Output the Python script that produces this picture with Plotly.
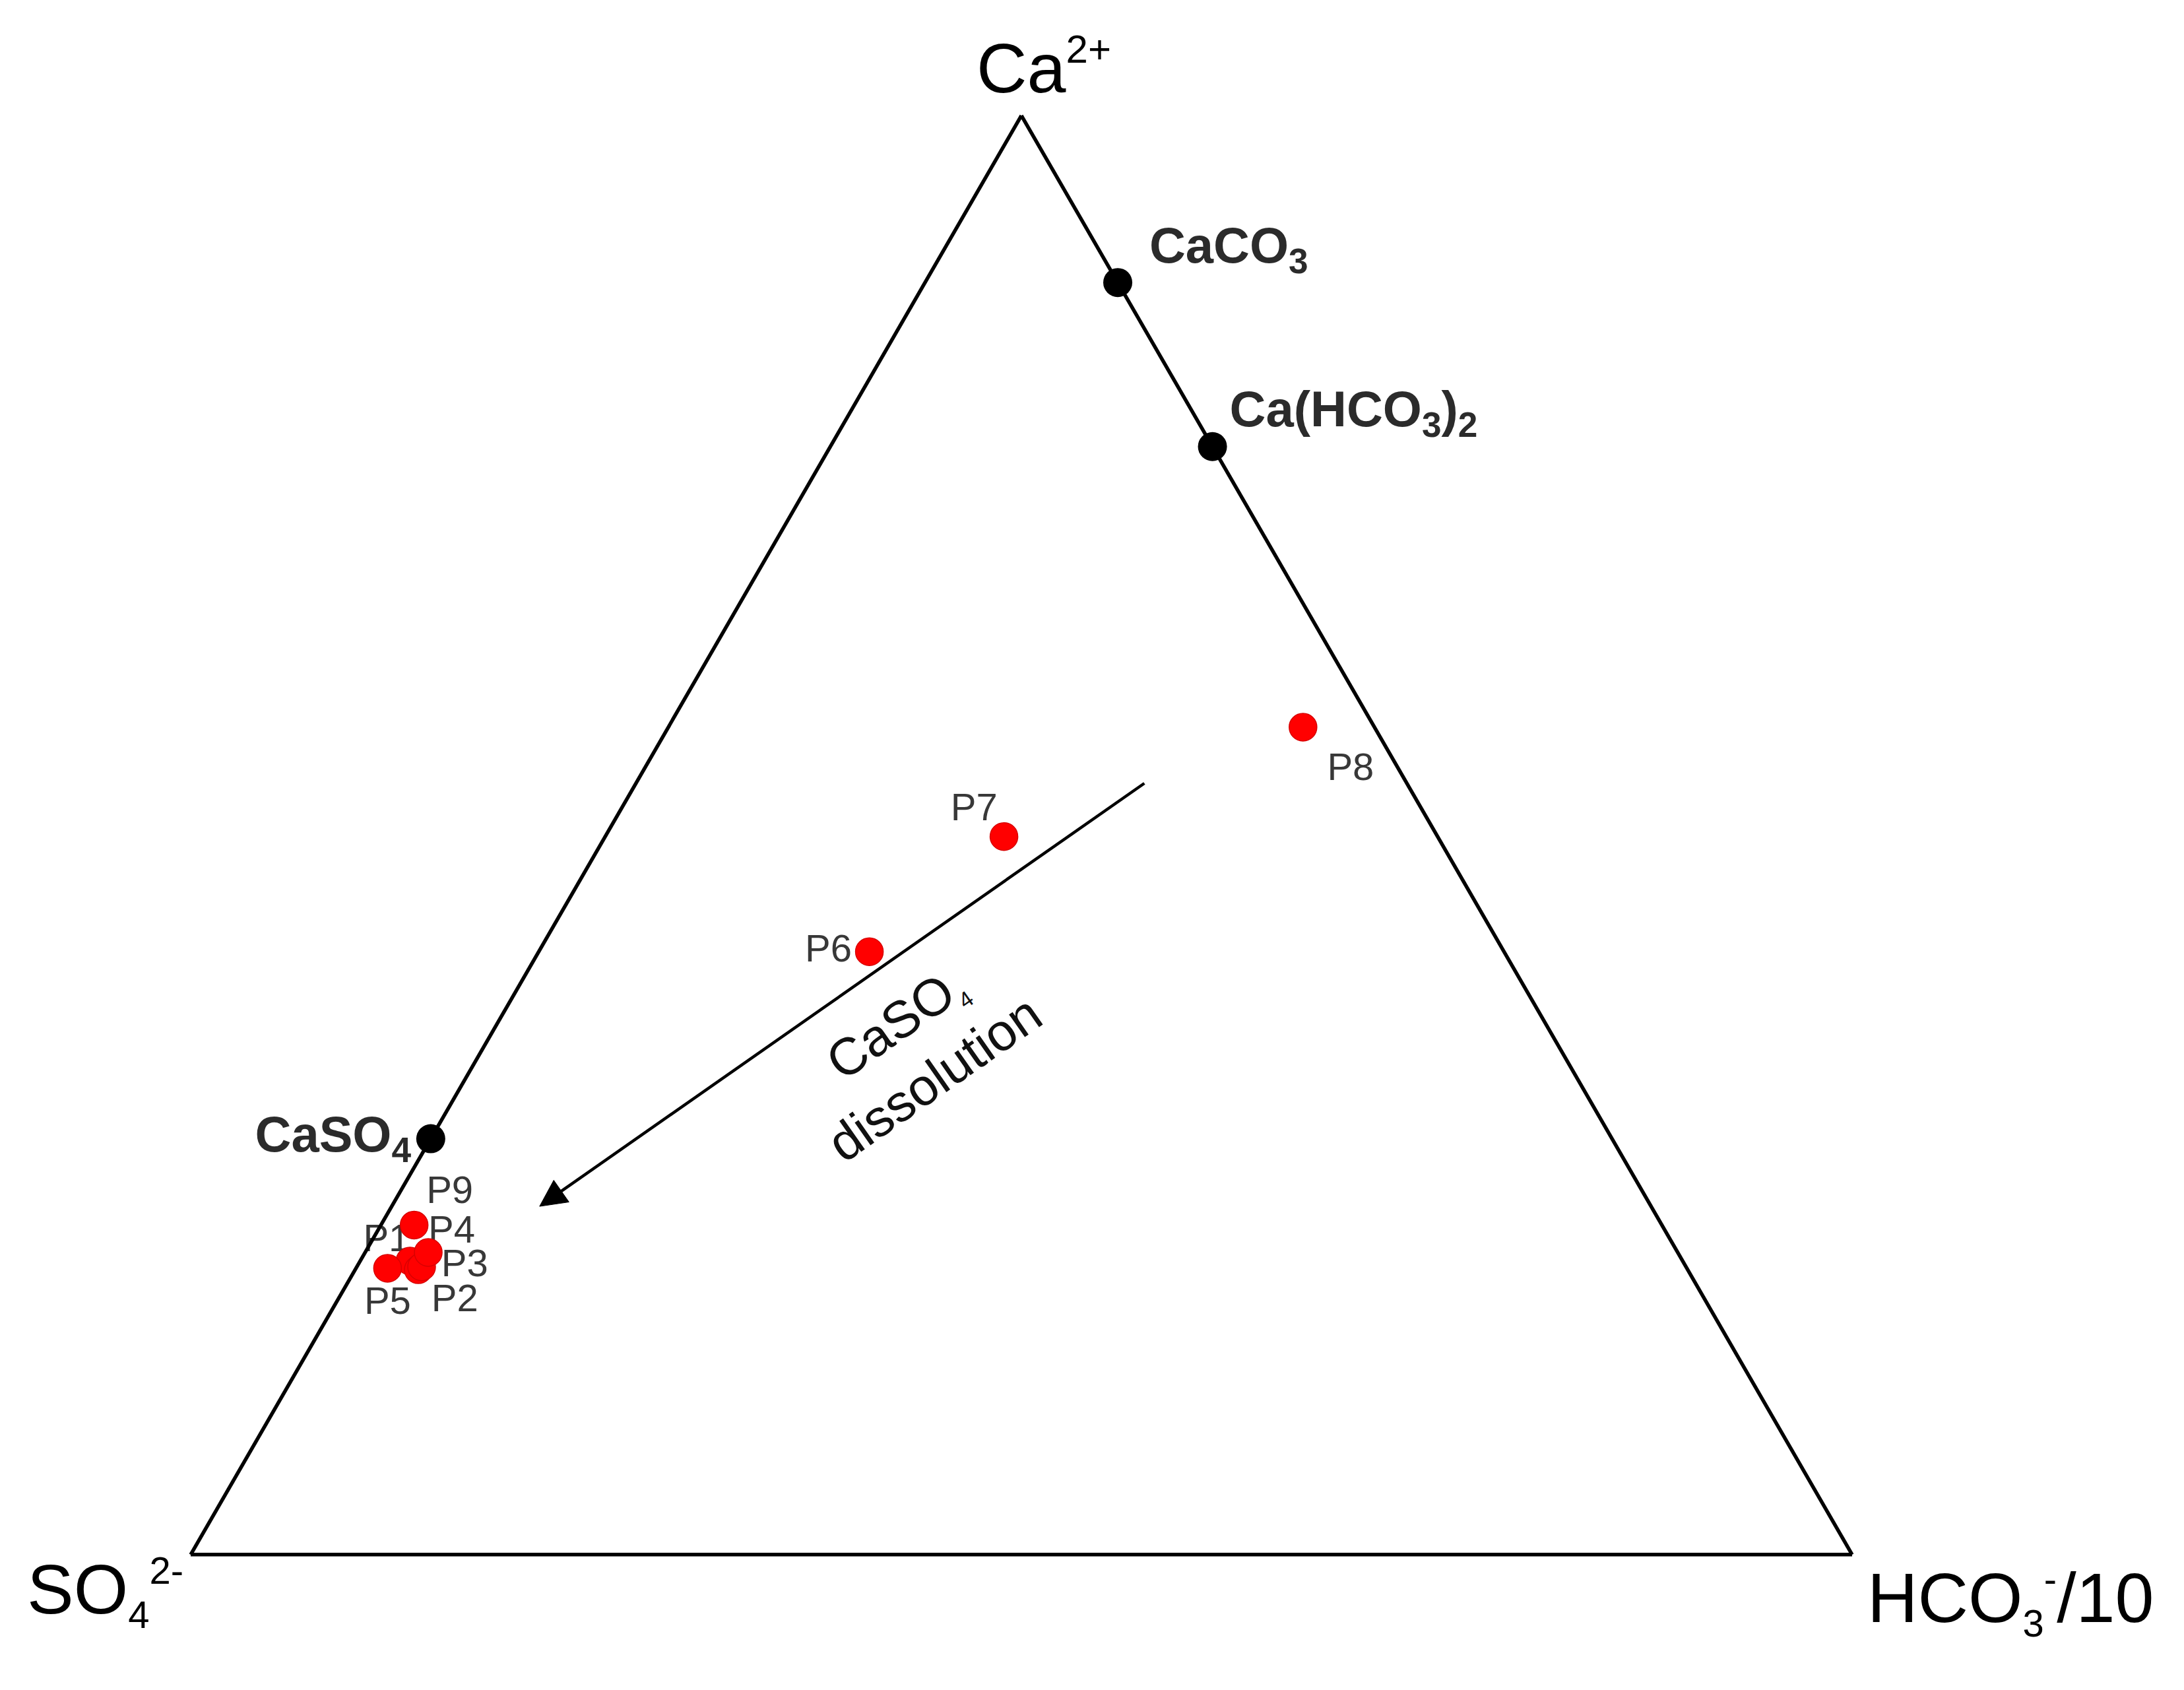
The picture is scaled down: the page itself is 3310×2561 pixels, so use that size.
import math
import plotly.graph_objects as go

# ---- data (ternary %, sum = 100): a = Ca2+, b = SO4 2-, c = HCO3-/10 ----
samples = ["P1", "P2", "P3", "P4", "P5", "P6", "P7", "P8", "P9"]
sample_ca = [20.4, 19.8, 20.0, 21.0, 19.9, 41.9, 49.9, 57.5, 22.9]
sample_so4 = [76.6, 76.4, 76.1, 75.2, 78.2, 38.2, 26.1, 4.3, 75.1]
sample_hco3 = [3.0, 3.8, 3.9, 3.8, 1.9, 19.9, 24.0, 38.2, 2.0]

minerals = ["CaCO<sub>3</sub>", "Ca(HCO<sub>3</sub>)<sub>2</sub>", "CaSO<sub>4</sub>"]
mineral_ca = [88.4, 77.0, 28.9]
mineral_so4 = [0.0, 0.0, 71.1]
mineral_hco3 = [11.6, 23.0, 0.0]

# CaSO4 dissolution trend arrow (start, end)
arrow_ca = [53.6, 24.2]
arrow_so4 = [15.8, 66.9]
arrow_hco3 = [30.6, 8.9]

# ---- label placement styles ----
sample_textpos = ["top left", "bottom right", "middle right", "top right",
                  "bottom center", "middle left", "top left", "bottom right", "top right"]
sample_label_gap = [0, 30, 46, 0, 39, 41, 14, 57, 28]      # invisible marker sizes -> text offset
mineral_textpos = ["middle right", "middle right", "middle left"]
mineral_label_gap = [75, 40, 46]
mineral_label_suffix = ["<br> ", "<br> ", ""]
HEAD_LEN = 1.6     # arrowhead length, in ternary units (sum = 100)
HEAD_WID = 1.6     # arrowhead width

FONT = "Liberation Sans, Arial, sans-serif"
CLEAR = "rgba(0,0,0,0)"


# ---- arrowhead geometry derived from the arrow end points ----
def to_xy(a, c):
    return c + a / 2.0, a * math.sqrt(3) / 2.0


def to_abc(x, y):
    a = y * 2.0 / math.sqrt(3)
    c = x - a / 2.0
    return a, 100.0 - a - c, c


sx, sy = to_xy(arrow_ca[0], arrow_hco3[0])
ex, ey = to_xy(arrow_ca[1], arrow_hco3[1])
dl = math.hypot(ex - sx, ey - sy)
ux, uy = (ex - sx) / dl, (ey - sy) / dl
bx, by = ex - ux * HEAD_LEN, ey - uy * HEAD_LEN
nx, ny = -uy, ux
head_pts = [to_abc(ex, ey),
            to_abc(bx + nx * HEAD_WID / 2, by + ny * HEAD_WID / 2),
            to_abc(bx - nx * HEAD_WID / 2, by - ny * HEAD_WID / 2),
            to_abc(ex, ey)]
shaft_end = to_abc(bx + ux * 0.2, by + uy * 0.2)

fig = go.Figure()

# arrow shaft
fig.add_trace(go.Scatterternary(
    a=[arrow_ca[0], shaft_end[0]], b=[arrow_so4[0], shaft_end[1]], c=[arrow_hco3[0], shaft_end[2]],
    mode="lines",
    line=dict(color="black", width=4.5),
    hoverinfo="skip", showlegend=False,
))
# arrow head
fig.add_trace(go.Scatterternary(
    a=[p[0] for p in head_pts], b=[p[1] for p in head_pts], c=[p[2] for p in head_pts],
    mode="lines", fill="toself", fillcolor="black",
    line=dict(color="black", width=1),
    hoverinfo="skip", showlegend=False,
))

# mineral labels (drawn under markers)
fig.add_trace(go.Scatterternary(
    a=mineral_ca, b=mineral_so4, c=mineral_hco3,
    mode="markers+text",
    text=[m + s for m, s in zip(minerals, mineral_label_suffix)],
    textposition=mineral_textpos,
    textfont=dict(family=FONT, size=76, color="#2b2b2b", weight="bold"),
    marker=dict(size=mineral_label_gap, color=CLEAR, line=dict(width=0)),
    cliponaxis=False, hoverinfo="skip", showlegend=False,
))

# mineral reference points
fig.add_trace(go.Scatterternary(
    a=mineral_ca, b=mineral_so4, c=mineral_hco3,
    mode="markers",
    marker=dict(size=44, color="black"),
    cliponaxis=False, showlegend=False,
))

# sample labels (drawn under markers)
fig.add_trace(go.Scatterternary(
    a=sample_ca, b=sample_so4, c=sample_hco3,
    mode="markers+text",
    text=samples, textposition=sample_textpos,
    textfont=dict(family=FONT, size=58, color="#383838"),
    marker=dict(size=sample_label_gap, color=CLEAR, line=dict(width=0)),
    cliponaxis=False, hoverinfo="skip", showlegend=False,
))

# samples
fig.add_trace(go.Scatterternary(
    a=sample_ca, b=sample_so4, c=sample_hco3,
    mode="markers",
    text=samples,
    marker=dict(size=42, color="#ff0000", line=dict(color="#d80000", width=1.5)),
    cliponaxis=False, showlegend=False,
))

axis_style = dict(
    title=dict(text=""), showticklabels=False, ticks="", showgrid=False,
    showline=True, linecolor="black", linewidth=5.5,
)

fig.update_layout(
    width=3310, height=2561,
    margin=dict(l=0, r=0, t=0, b=0),
    paper_bgcolor="white",
    ternary=dict(
        sum=100,
        bgcolor="white",
        domain=dict(x=[0.08489, 0.84562], y=[0.08317, 0.93479]),
        aaxis=axis_style, baxis=axis_style, caxis=axis_style,
    ),
    showlegend=False,
    annotations=[
        dict(text='Ca<sup><span style="font-size:60px">2+</span></sup>',
             x=0.4441, y=0.9634, xref="paper", yref="paper",
             xanchor="left", yanchor="middle", showarrow=False,
             font=dict(family=FONT, size=106, color="black")),
        dict(text='SO<sub><span style="font-size:58px">4</span></sub><sup><span style="font-size:58px">2-</span></sup>',
             x=0.0094, y=0.061, xref="paper", yref="paper",
             xanchor="left", yanchor="middle", showarrow=False,
             font=dict(family=FONT, size=106, color="black")),
        dict(text='HCO<sub><span style="font-size:58px">3</span></sub><sup><span style="font-size:58px">-</span></sup>/10',
             x=0.852, y=0.056, xref="paper", yref="paper",
             xanchor="left", yanchor="middle", showarrow=False,
             font=dict(family=FONT, size=106, color="black")),
        dict(text='CaSO<sub><span style="font-size:34px">4</span></sub><br>dissolution',
             x=0.4166, y=0.3815, xref="paper", yref="paper",
             xanchor="center", yanchor="middle", showarrow=False, textangle=-35, align="center",
             font=dict(family=FONT, size=79, color="#111111")),
    ],
)

fig.write_html("out.html")
